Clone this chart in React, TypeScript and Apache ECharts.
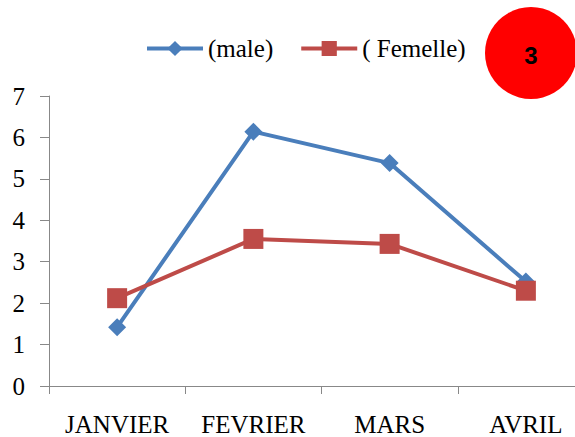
import React, { useEffect, useRef } from "react";
import * as echarts from "echarts";

const categories = ["JANVIER", "FEVRIER", "MARS", "AVRIL"];
const maleValues = [1.42, 6.14, 5.38, 2.52];
const femelleValues = [2.12, 3.55, 3.43, 2.3];
const seriesNames = ["(male)", "( Femelle)"];
const badgeText = "3";

export default function App() {
  const ref = useRef<HTMLDivElement>(null);
  useEffect(() => {
    if (!ref.current) return;
    const chart = echarts.init(ref.current, null, { renderer: "svg" });
    const serif = "'Liberation Serif', 'Times New Roman', serif";
    chart.setOption({
      animation: false,
      backgroundColor: "#ffffff",
      grid: { left: 49, right: 6, top: 96, bottom: 51, containLabel: false, outerBoundsMode: "none" },
      legend: {
        left: 140,
        top: 31,
        itemWidth: 56,
        itemHeight: 19,
        itemGap: 26,
        lineStyle: { width: 4 },
        textStyle: { fontFamily: serif, fontSize: 25, color: "#000" },
        data: seriesNames,
      },
      xAxis: {
        type: "category",
        data: categories,
        boundaryGap: true,
        axisLine: { lineStyle: { color: "#888", width: 1 } },
        axisTick: { show: true, length: 8, alignWithLabel: false, lineStyle: { color: "#888" } },
        axisLabel: { fontFamily: serif, fontSize: 25, color: "#000", margin: 26, interval: 0 },
        splitLine: { show: false },
      },
      yAxis: {
        type: "value",
        min: 0,
        max: 7,
        interval: 1,
        axisLine: { show: true, lineStyle: { color: "#888", width: 1 } },
        axisTick: { show: true, length: 9, lineStyle: { color: "#888" } },
        axisLabel: { fontFamily: serif, fontSize: 25, color: "#000", margin: 24 },
        splitLine: { show: false },
      },
      series: [
        {
          name: seriesNames[0],
          type: "line",
          data: maleValues,
          symbol: "diamond",
          symbolSize: 18,
          lineStyle: { color: "#4a7ebb", width: 4 },
          itemStyle: { color: "#4a7ebb" },
          z: 2,
        },
        {
          name: seriesNames[1],
          type: "line",
          data: femelleValues,
          symbol: "rect",
          symbolSize: 20,
          lineStyle: { color: "#be4b48", width: 4 },
          itemStyle: { color: "#be4b48" },
          z: 3,
        },
      ],
      graphic: [
        {
          type: "circle",
          shape: { cx: 531, cy: 53, r: 46 },
          style: { fill: "#ff0000" },
          z: 10,
        },
        {
          type: "text",
          x: 531,
          y: 55,
          style: {
            text: badgeText,
            fill: "#000",
            font: "bold 24px 'Liberation Sans'",
            align: "center",
            verticalAlign: "middle",
          },
          z: 11,
        },
      ],
    });
    return () => chart.dispose();
  }, []);
  return (
    <div style={{ width: 575, height: 437, position: "absolute", left: 0, top: 0, overflow: "hidden" }}>
      <div ref={ref} style={{ width: 600, height: 437 }} />
    </div>
  );
}
